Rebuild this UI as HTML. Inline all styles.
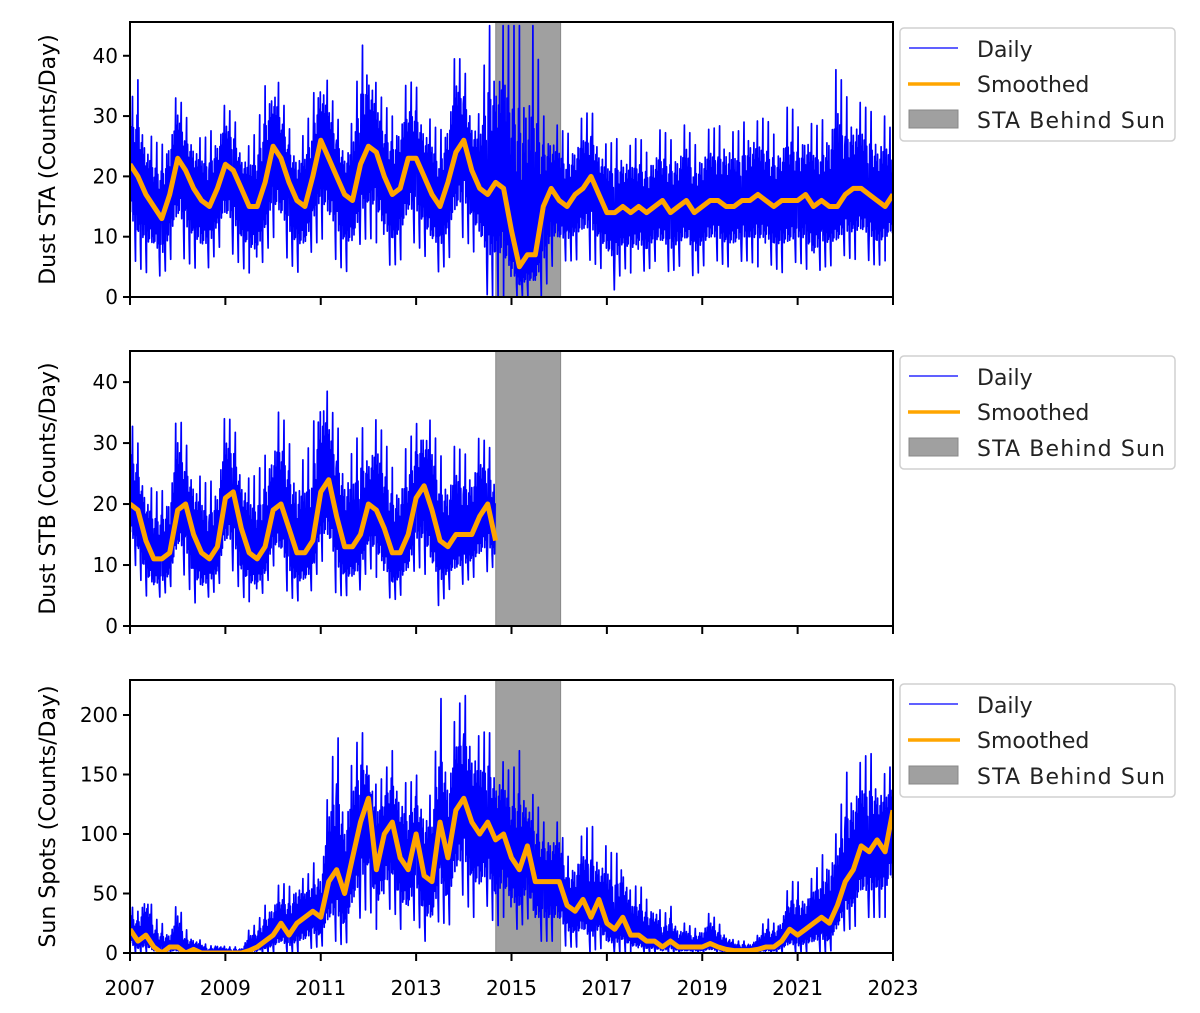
<!DOCTYPE html>
<html><head><meta charset="utf-8"><style>
body{margin:0;background:#fff}
svg{display:block;font-family:"DejaVu Sans","Liberation Sans",sans-serif}
</style></head><body>
<svg id="chart" width="1200" height="1013" viewBox="0 0 1200 1013"></svg>
<script>
// ---- data (2-month bins starting 2007.0) ----
const xTicks=[2007,2009,2011,2013,2015,2017,2019,2021,2023];
const gapStart=2014.67, gapEnd=2016.03;
const staSmooth=[22,20,17,15,13,17, 23,21,18,16,15,18, 22,21,18,15,15,19, 25,23,19,16,15,20, 26,23,20,17,16,22, 25,24,20,17,18,23, 23,20,17,15,19,24, 26,21,18,17,19,18, 11,5,7,7,15,18, 16,15,17,18,20,17, 14,14,15,14,15,14, 15,16,14,15,16,14, 15,16,16,15,15,16, 16,17,16,15,16,16, 16,17,15,16,15,15, 17,18,18,17,16,15, 17];
const staHigh=[32,36,28,26,25,30, 34,30,28,26,27,30, 32,30,26,25,28,35, 39,34,28,26,27,33, 40,35,30,27,29,41, 44,35,32,30,33,36, 35,31,29,27,33,41, 38,33,30,45,45,45, 45,45,45,45,30,30, 28,27,28,30,31,28, 25,26,27,25,27,24, 27,28,26,27,29,25, 27,28,28,30,27,28, 32,29,30,27,28,33, 28,31,28,29,32,39, 33,34,32,31,30,30, 27];
const staLow=[8,5,4,5,3,6, 8,6,5,4,5,8, 9,7,5,4,3,7, 10,8,6,4,5,8, 10,8,6,4,5,9, 10,9,6,5,6,9, 9,7,5,4,6,9, 10,8,6,0,0,0, 0,0,0,0,0,5, 6,6,6,7,6,5, 4,1,5,4,5,4, 6,5,4,5,6,3, 5,6,6,5,5,6, 6,5,6,5,4,5, 6,5,2,5,5,6, 7,6,7,6,5,6, 8];
const stbSmooth=[20,19,14,11,11,12, 19,20,15,12,11,13, 21,22,16,12,11,13, 19,20,16,12,12,14, 22,24,18,13,13,15, 20,19,16,12,12,15, 21,23,19,14,13,15, 15,15,18,20,14];
const stbHigh=[34,30,24,22,22,25, 36,30,27,24,23,27, 35,33,28,24,25,28, 33,36,30,28,27,32, 45,37,33,30,28,33, 31,34,31,26,27,30, 33,36,33,28,27,30, 28,29,31,30,27];
const stbLow=[12,9,5,4,5,6, 10,8,4,3,5,6, 10,9,5,4,4,6, 10,8,5,4,5,6, 11,9,5,5,5,6, 10,8,6,4,5,6, 10,9,5,3,6,6, 7,8,8,9,10];
const ssSmooth=[20,10,15,5,0,5, 5,0,3,0,0,0, 0,0,0,2,5,10, 15,25,15,25,30,35, 30,60,70,50,80,110, 130,70,100,110,80,70, 100,65,60,110,80,120, 130,110,100,110,95,100, 80,70,90,60,60,60, 60,40,35,45,30,45, 25,20,30,15,15,10, 10,5,10,5,5,5, 5,8,5,3,2,2, 2,3,5,5,10,20, 15,20,25,30,25,40, 60,70,90,85,95,85, 120];
const ssHigh=[40,35,65,30,25,20, 45,20,15,10,5,10, 5,5,5,20,25,40, 50,60,55,70,60,75, 80,140,190,140,160,190, 170,140,150,170,150,140, 150,140,130,220,170,200, 220,200,180,190,170,160, 150,170,140,130,110,110, 110,80,90,100,110,90, 90,80,95,50,60,45, 50,30,40,25,25,20, 25,35,25,20,10,10, 10,15,30,25,35,60, 60,55,65,80,100,100, 150,160,160,170,160,150, 160];
const ssLow=[0,0,0,0,0,0, 0,0,0,0,0,0, 0,0,0,0,0,0, 0,0,0,0,0,5, 5,10,10,5,20,30, 40,20,30,40,20,20, 30,10,10,30,20,40, 50,30,30,40,20,30, 20,20,30,10,10,10, 10,5,5,5,0,5, 0,0,0,0,0,0, 0,0,0,0,0,0, 0,0,0,0,0,0, 0,0,0,0,0,0, 0,0,0,0,0,10, 20,20,30,30,30,30, 40];

const NS="http://www.w3.org/2000/svg";
const svg=document.getElementById('chart');
function mk(tag,attrs,parent){const e=document.createElementNS(NS,tag);for(const k in attrs)e.setAttribute(k,attrs[k]);(parent||svg).appendChild(e);return e;}
const X0=130,X1=893;
function xs(t){return X0+(t-2007)/(2023-2007)*(X1-X0);}
const step=1/6;
const subPattern=[0.45,-0.55,0.6,-0.4,0.4,1.0,-0.6,0.55,-0.5,0.35,-0.7,-1.0,0.5,-0.45,0.65,-0.6];

function panel(id,top,bottom,ymax,yTicks,ylabel,smooth,hi,lo,showXLabels,legendTop){
  const ys=v=>bottom-(Math.min(Math.max(v,0),ymax))/ymax*(bottom-top);
  const g=mk('g',{});
  
  
  const cp=mk('clipPath',{id:'clip'+id},g);
  mk('rect',{x:X0,y:top,width:X1-X0,height:bottom-top},cp);
  const plot=mk('g',{'clip-path':'url(#clip'+id+')'},g);
  const gap=mk('rect',{x:xs(gapStart),y:top,width:xs(gapEnd)-xs(gapStart),height:bottom-top,fill:'#a0a0a0',stroke:'#888','stroke-width':1},plot);
  
  
  let pts=[];
  const n=subPattern.length;
  for(let i=0;i<hi.length-1;i++){
    for(let k=0;k<n;k++){
      const f=k/n;
      const t=2007+(i+f)*step;
      const h=hi[i]*(1-f)+hi[i+1]*f, l=lo[i]*(1-f)+lo[i+1]*f, s=smooth[i]*(1-f)+smooth[i+1]*f;
      const p=subPattern[(k+i*5)%n];
      const v=p>=0? s+(h-s)*p : s+(s-l)*p;
      pts.push(xs(t).toFixed(1)+','+ys(v).toFixed(1));
    }
  }
  const band=mk('polyline',{points:pts.join(' '),fill:'none',stroke:'#0000ff','stroke-width':1.7,'stroke-linejoin':'round'},plot);
  
  
  const sp=smooth.map((v,i)=>xs(2007+i*step).toFixed(1)+','+ys(v).toFixed(1)).join(' ');
  const sm=mk('polyline',{points:sp,fill:'none',stroke:'#ffa500','stroke-width':5,'stroke-linejoin':'round'},plot);
  
  
  const fr=mk('rect',{x:X0,y:top,width:X1-X0,height:bottom-top,fill:'none',stroke:'#000','stroke-width':2},g);
  
  
  yTicks.forEach(v=>{
    const y=ys(v);
    mk('line',{x1:X0-7,x2:X0,y1:y,y2:y,stroke:'#000','stroke-width':2},g);
    const t=mk('text',{x:X0-12,y:y+7,'text-anchor':'end','font-size':20,fill:'#000'},g);
    t.textContent=v;
    
    
  });
  xTicks.forEach(v=>{
    const x=xs(v);
    mk('line',{x1:x,x2:x,y1:bottom,y2:bottom+8,stroke:'#000','stroke-width':2},g);
    if(showXLabels){
      const t=mk('text',{x:x,y:bottom+42,'text-anchor':'middle','font-size':20,fill:'#000'},g);
      t.textContent=v;
      
      
    }
  });
  const yl=mk('text',{x:0,y:0,transform:'translate(55,'+((top+bottom)/2)+') rotate(-90)','text-anchor':'middle','font-size':22,fill:'#000'},g);
  yl.textContent=ylabel;
  
  
  const lg=mk('g',{},g);
  
  
  mk('rect',{x:900,y:legendTop,width:275,height:113,rx:4,fill:'#fff',stroke:'#d0d0d0','stroke-width':1.5},lg);
  mk('line',{x1:909,x2:958,y1:legendTop+20,y2:legendTop+20,stroke:'#0000ff','stroke-width':1.2},lg);
  mk('line',{x1:908,x2:960,y1:legendTop+56,y2:legendTop+56,stroke:'#ffa500','stroke-width':3.5},lg);
  mk('rect',{x:909,y:legendTop+82,width:49,height:18,fill:'#a0a0a0',stroke:'#888','stroke-width':1},lg);
  [['Daily',29],['Smoothed',64],['STA Behind Sun',100]].forEach(([s,dy])=>{
    const t=mk('text',{x:977,y:legendTop+dy,'font-size':22,fill:'#222'},lg);
    if(s==='STA Behind Sun')t.setAttribute('textLength','188');
    t.textContent=s;
    
    
  });
}
panel('sta',22,297,45.6,[0,10,20,30,40],'Dust STA (Counts/Day)',staSmooth,staHigh,staLow,false,28);
panel('stb',351,626,45.1,[0,10,20,30,40],'Dust STB (Counts/Day)',stbSmooth,stbHigh,stbLow,false,356);
panel('sunspots',680,953,229.4,[0,50,100,150,200],'Sun Spots (Counts/Day)',ssSmooth,ssHigh,ssLow,true,684);
</script>
</body></html>
